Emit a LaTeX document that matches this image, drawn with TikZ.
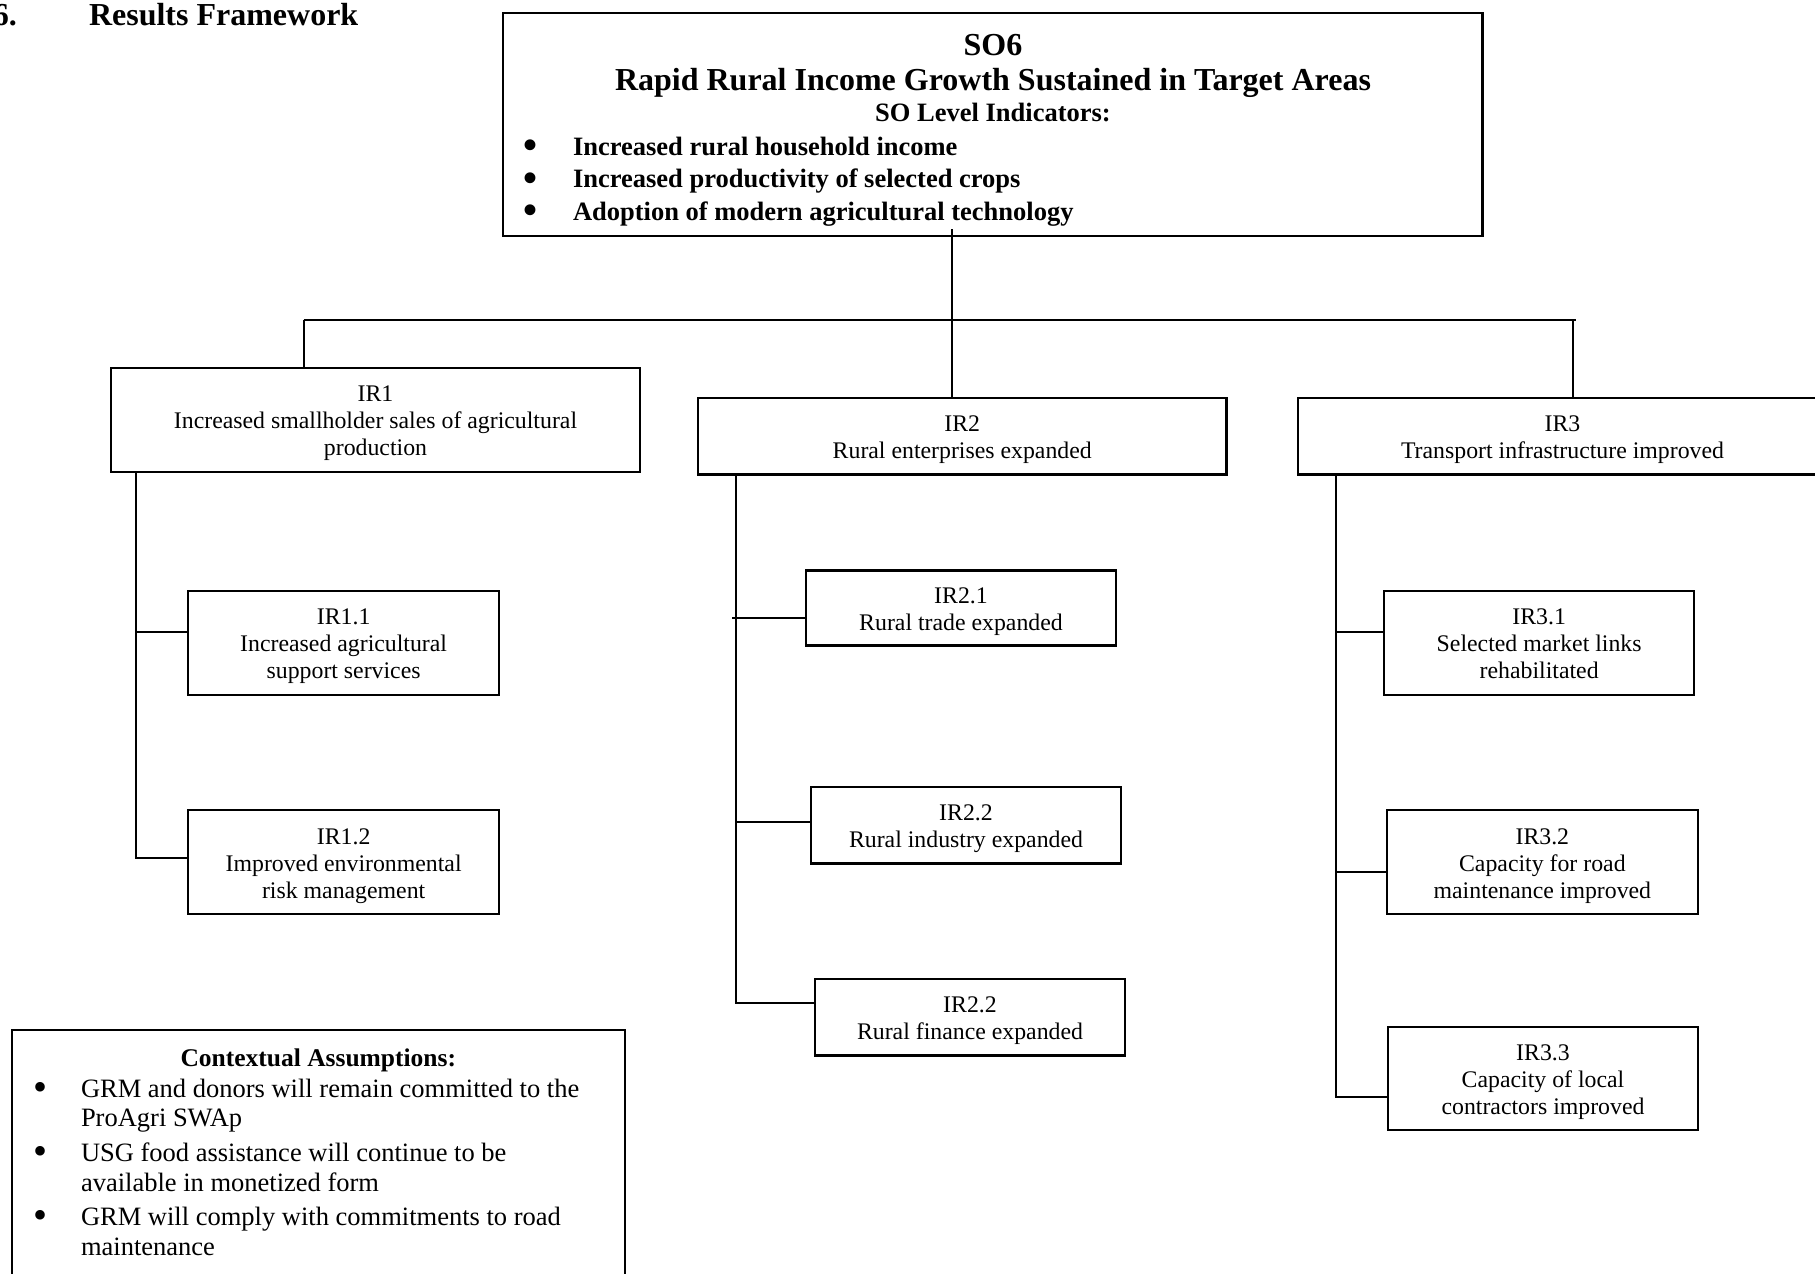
\documentclass[tikz,border=0pt]{standalone}
\usepackage{fontspec}
\setmainfont{Liberation Serif}
\newcommand\irfont{\fontsize{23.8}{27}\selectfont}
\newcommand\hdfont{\fontsize{32}{36}\selectfont\bfseries}
\newcommand\bulfont{\fontsize{26.5}{31}\selectfont\bfseries}
\newcommand\ctxfont{\fontsize{26.5}{30}\selectfont}
\newcommand\ctxtitlefont{\fontsize{25.5}{30}\selectfont\bfseries}
\newcommand\bigbul{\smash{\raisebox{-3.5pt}{\fontsize{40}{40}\selectfont\textbullet}}}
\newcommand\bxtext[1]{\raisebox{0pt}[\dimexpr\height+7pt\relax][\depth]{\begin{tabular}{@{}c@{}}#1\end{tabular}}}
\begin{document}
\begin{tikzpicture}[x=1pt,y=-1pt,line width=2pt,
  box/.style={draw,line width=2.2pt,inner sep=0pt,font=\irfont},
  frame/.style={draw,line width=2.2pt,inner sep=0pt},
  txt/.style={inner sep=0pt,anchor=base west},
  ctxt/.style={inner sep=0pt,anchor=base}]
\useasboundingbox (0,0) rectangle (1815,1274);
\clip (0,0) rectangle (1815,1274);
\fill[white] (0,0) rectangle (1815,1274);

% heading
\node[txt,font=\hdfont] (num) at (-8,25) {6.};
\node[txt,font=\hdfont] (ttl) at (88,25) {Results Framework};

% SO6 box
\node[frame,minimum width=979.5pt,minimum height=222.7pt] (so6) at (992.75,124.35) {};
\node[ctxt,font=\hdfont] (so6a) at (993,55) {SO6};
\node[ctxt,font=\hdfont] (so6b) at (993,90) {Rapid Rural Income Growth Sustained in Target Areas};
\node[ctxt,font=\bulfont] (so6c) at (993,121) {SO Level Indicators:};
\node[txt,font=\bulfont] (sb1) at (522,155) {\makebox[50pt][l]{\bigbul}Increased rural household income};
\node[txt,font=\bulfont] (sb2) at (522,187.5) {\makebox[50pt][l]{\bigbul}Increased productivity of selected crops};
\node[txt,font=\bulfont] (sb3) at (522,220) {\makebox[50pt][l]{\bigbul}Adoption of modern agricultural technology};

% IR level
\node[box,minimum width=529pt,minimum height=104pt] (ir1) at (375.5,420) {\bxtext{IR1\\Increased smallholder sales of agricultural\\production}};
\node[box,minimum width=528.5pt,minimum height=76.5pt] (ir2) at (962.25,436.25) {\bxtext{IR2\\Rural enterprises expanded}};
\node[box,minimum width=529pt,minimum height=76.5pt] (ir3) at (1562.5,436.25) {\bxtext{IR3\\Transport infrastructure improved}};

% sub IRs
\node[box,minimum width=310.7pt,minimum height=104.3pt] (ir11) at (343.65,642.85) {\bxtext{IR1.1\\Increased agricultural\\support services}};
\node[box,minimum width=310.7pt,minimum height=104pt] (ir12) at (343.65,862.3) {\bxtext{IR1.2\\Improved environmental\\risk management}};

\node[box,minimum width=310pt,minimum height=75pt] (ir21) at (961,608) {\bxtext{IR2.1\\Rural trade expanded}};
\node[box,minimum width=310pt,minimum height=76.5pt] (ir22) at (966,825.25) {\bxtext{IR2.2\\Rural industry expanded}};
\node[box,minimum width=310pt,minimum height=76.5pt] (ir23) at (970,1017.25) {\bxtext{IR2.2\\Rural finance expanded}};

\node[box,minimum width=310.3pt,minimum height=104pt] (ir31) at (1539.15,642.7) {\bxtext{IR3.1\\Selected market links\\rehabilitated}};
\node[box,minimum width=310.7pt,minimum height=104pt] (ir32) at (1542.35,862.3) {\bxtext{IR3.2\\Capacity for road\\maintenance improved}};
\node[box,minimum width=310pt,minimum height=103pt] (ir33) at (1543,1078.2) {\bxtext{IR3.3\\Capacity of local\\contractors improved}};

% contextual assumptions
\node[frame,minimum width=613.4pt,minimum height=300pt] (ctx) at (318.3,1180) {};
\node[ctxt,font=\ctxtitlefont] (ctxt0) at (318.3,1066) {Contextual Assumptions:};
\node[txt,font=\ctxfont] (c1) at (32,1097) {\makebox[48pt][l]{\bigbul}GRM and donors will remain committed to the};
\node[txt,font=\ctxfont] (c1b) at (80,1126) {ProAgri SWAp};
\node[txt,font=\ctxfont] (c2) at (32,1161) {\makebox[48pt][l]{\bigbul}USG food assistance will continue to be};
\node[txt,font=\ctxfont] (c2b) at (80,1191) {available in monetized form};
\node[txt,font=\ctxfont] (c3) at (32,1225) {\makebox[48pt][l]{\bigbul}GRM will comply with commitments to road};
\node[txt,font=\ctxfont] (c3b) at (80,1255) {maintenance};

% connectors
\coordinate (so6out) at (951.7,229);
\coordinate (barL) at (303.7,320);
\coordinate (barR) at (1576,320);
\coordinate (d3) at (1573,320);
\draw (so6out) -- (so6out |- ir2.north);
\draw (barL) -- (barR);
\draw (barL) -- (barL |- ir1.north);
\draw (d3) -- (d3 |- ir3.north);

\coordinate (b11) at (135.7,632.3);
\coordinate (b12) at (135.7,858.3);
\draw (ir1.south -| b12) -- (b12) -- (b12 -| ir12.west);
\draw (b11) -- (b11 -| ir11.west);

\coordinate (b21) at (732,617.5);
\coordinate (b22) at (735.5,822);
\coordinate (b23) at (735.5,1003);
\draw (ir2.south -| b23) -- (b23) -- (b23 -| ir23.west);
\draw (b22) -- (b22 -| ir22.west);
\draw (b21) -- (b21 -| ir21.west);

\coordinate (b31) at (1335.7,632.3);
\coordinate (b32) at (1335.7,872.3);
\coordinate (b33) at (1335.7,1097.3);
\draw (ir3.south -| b33) -- (b33) -- (b33 -| ir33.west);
\draw (b32) -- (b32 -| ir32.west);
\draw (b31) -- (b31 -| ir31.west);
\end{tikzpicture}
\end{document}
